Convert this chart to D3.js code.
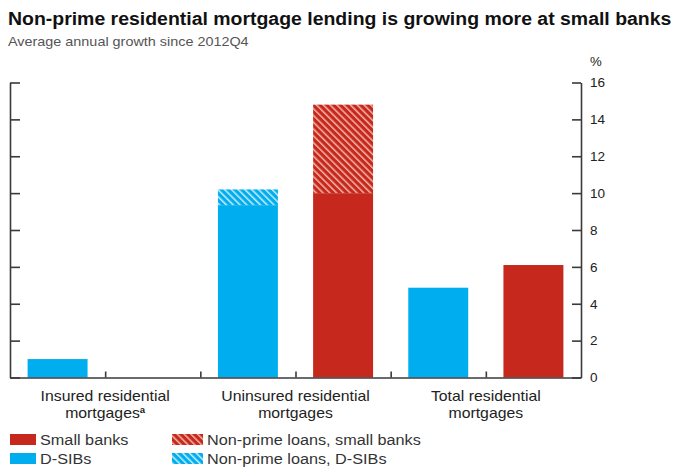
<!DOCTYPE html>
<html>
<head>
<meta charset="utf-8">
<script src="https://cdn.jsdelivr.net/npm/d3@7/dist/d3.min.js"></script>
<style>
  html, body { margin: 0; padding: 0; background: #fff; }
  svg { display: block; font-family: "Liberation Sans", Arial, Helvetica, sans-serif; }
</style>
</head>
<body>
<svg id="chart" width="678" height="468"></svg>
<script>
// Average annual growth since 2012Q4, per cent
const categories = [
  ["Insured residential", "mortgages"],
  ["Uninsured residential", "mortgages"],
  ["Total residential", "mortgages"]
];
const categoryKeys = ["insured", "uninsured", "total"];
const seriesNames = ["D-SIBs", "Small banks"];
const dsibTotal = [1.0, 10.2, 4.87];
const smallTotal = [0.0, 14.8, 6.1];
// Portion of each total that is non-prime lending (drawn hatched on top)
const dsibNonPrime = [0, 0.85, 0];
const smallNonPrime = [0, 4.8, 0];
const yTicks = [0, 2, 4, 6, 8, 10, 12, 14, 16];

const colors = { "D-SIBs": "#00aeef", "Small banks": "#c7281e" };
const stripe = { "D-SIBs": "#c9ecfa", "Small banks": "#f2b6a6" };

const svg = d3.select("#chart");
const plotLeft = 10, plotRight = 581, plotTop = 82.5, plotBottom = 377.5;

const x0 = d3.scaleBand().domain(categoryKeys).range([plotLeft, plotRight]);
const x1 = d3.scaleBand().domain(seriesNames).range([0, x0.bandwidth()])
  .paddingInner(0.37).paddingOuter(0.185);
const y = d3.scaleLinear().domain([0, 16]).range([plotBottom, plotTop]);

// Text placed with a slight horizontal stretch (wide house typeface)
function label(parent, x, yPos, str, size, sx, opts = {}) {
  const t = parent.append("text")
    .attr("transform", `translate(${x},${yPos}) scale(${sx},1)`)
    .attr("font-size", size)
    .attr("fill", opts.fill || "#222")
    .attr("text-anchor", opts.anchor || "start")
    .attr("font-weight", opts.weight || "normal")
    .text(str);
  return t;
}

// Hatch patterns for the non-prime portions
const defs = svg.append("defs");
seriesNames.forEach((s, i) => {
  const p = defs.append("pattern")
    .attr("id", "hatch" + i)
    .attr("patternUnits", "userSpaceOnUse")
    .attr("width", 4.8).attr("height", 4.8)
    .attr("patternTransform", "rotate(-45)");
  p.append("rect").attr("width", 4.8).attr("height", 4.8).attr("fill", colors[s]);
  p.append("rect").attr("x", 0).attr("width", 1.5).attr("height", 4.8).attr("fill", stripe[s]);
});

// Title and subtitle
label(svg, 8, 25, "Non-prime residential mortgage lending is growing more at small banks",
  18.5, 1.052, { weight: "bold", fill: "#111" });
label(svg, 8, 46, "Average annual growth since 2012Q4", 12, 1.2, { fill: "#555" });

// Bars
const rows = [];
categoryKeys.forEach((k, i) => {
  rows.push({ cat: k, s: "D-SIBs", total: dsibTotal[i], np: dsibNonPrime[i], idx: 0 });
  rows.push({ cat: k, s: "Small banks", total: smallTotal[i], np: smallNonPrime[i], idx: 1 });
});
const gBars = svg.append("g");
rows.filter(d => d.total > 0).forEach(d => {
  const bx = x0(d.cat) + x1(d.s);
  const solid = d.total - d.np;
  gBars.append("rect")
    .attr("x", bx).attr("width", x1.bandwidth())
    .attr("y", y(solid)).attr("height", y(0) - y(solid))
    .attr("fill", colors[d.s]);
  if (d.np > 0) {
    gBars.append("rect")
      .attr("x", bx).attr("width", x1.bandwidth())
      .attr("y", y(d.total)).attr("height", y(solid) - y(d.total))
      .attr("fill", "url(#hatch" + d.idx + ")");
  }
});

const axisColor = "#3a3a3a";

// Right axis with labels
const yAxisR = d3.axisRight(y).tickValues(yTicks).tickSizeInner(-9).tickSizeOuter(0).tickPadding(9);
const gR = svg.append("g").attr("transform", `translate(${plotRight},0)`).call(yAxisR);
gR.select(".domain").attr("stroke", axisColor).attr("stroke-width", 1.6);
gR.selectAll(".tick line").attr("stroke", axisColor).attr("stroke-width", 1.6);
gR.selectAll(".tick text").attr("font-size", 13.5).attr("fill", "#222")
  .attr("font-family", "Liberation Sans, Arial, sans-serif");
label(svg, 590, 66, "%", 12, 1.1);

// Left axis, ticks only
const yAxisL = d3.axisLeft(y).tickValues(yTicks).tickSizeInner(-10).tickSizeOuter(0).tickFormat("");
const gL = svg.append("g").attr("transform", `translate(${plotLeft},0)`).call(yAxisL);
gL.select(".domain").attr("stroke", axisColor).attr("stroke-width", 1.6);
gL.selectAll(".tick line").attr("stroke", axisColor).attr("stroke-width", 1.6);

// Bottom axis: ticks at group centres and between groups
const xTickPos = [];
categoryKeys.forEach((k, i) => {
  if (i > 0) xTickPos.push(x0(k));
  xTickPos.push(x0(k) + x0.bandwidth() / 2);
});
const xPos = d3.scaleLinear().domain([plotLeft, plotRight]).range([plotLeft, plotRight]);
const xAxis = d3.axisBottom(xPos).tickValues(xTickPos).tickSizeInner(-6).tickSizeOuter(0).tickFormat("");
const gB = svg.append("g").attr("transform", `translate(0,${plotBottom})`).call(xAxis);
gB.select(".domain").attr("stroke", axisColor).attr("stroke-width", 1.6);
gB.selectAll(".tick line").attr("stroke", axisColor).attr("stroke-width", 1.6);

// Category labels
categories.forEach((lines, i) => {
  const cx = x0(categoryKeys[i]) + x0.bandwidth() / 2;
  label(svg, cx, 401, lines[0], 14, 1.13, { anchor: "middle" });
  const t2 = label(svg, cx, 417.5, lines[1], 14, 1.13, { anchor: "middle" });
  if (i === 0) {
    t2.append("tspan").attr("font-size", 8.5).attr("font-weight", "bold").attr("dy", -5).text("a");
  }
});

// Legend
const legend = [
  { label: "Small banks", fill: colors["Small banks"], x: 10, y: 434, w: 26 },
  { label: "D-SIBs", fill: colors["D-SIBs"], x: 10, y: 453, w: 26 },
  { label: "Non-prime loans, small banks", fill: "url(#hatch1)", x: 172, y: 434, w: 31 },
  { label: "Non-prime loans, D-SIBs", fill: "url(#hatch0)", x: 172, y: 453, w: 31 }
];
const gLeg = svg.append("g");
legend.forEach(d => {
  gLeg.append("rect").attr("x", d.x).attr("y", d.y).attr("width", d.w).attr("height", 11).attr("fill", d.fill);
  label(gLeg, d.x + d.w + 4, d.y + 10.5, d.label, 14, 1.16, { fill: "#333" });
});
</script>
</body>
</html>
